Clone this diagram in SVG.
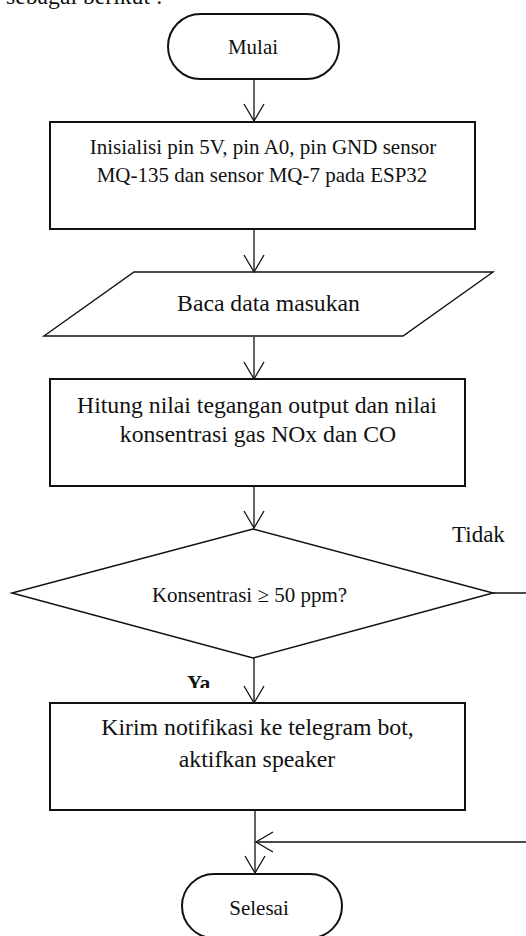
<svg xmlns="http://www.w3.org/2000/svg" width="526" height="936" viewBox="0 0 526 936">
<style>
text{font-family:"Liberation Serif","Times New Roman",serif;fill:#111;}
.c{text-anchor:middle;}
.shape{fill:none;stroke:#111;}
.term{stroke-width:2;}
.box{stroke-width:2;}
.io{stroke-width:1.4;}
.dec{stroke-width:1.5;}
.conn line{stroke:#111;stroke-width:1.3;fill:none;}
</style>
<defs>
<marker id="arr" viewBox="-19 -12 21 24" markerWidth="21" markerHeight="24" refX="0" refY="0" orient="auto" markerUnits="userSpaceOnUse">
<path d="M-17,-10 L0,0 L-17,10" fill="none" stroke="#111" stroke-width="1.3"/>
</marker>
<clipPath id="yaclip"><rect x="0" y="0" width="526" height="688"/></clipPath>
</defs>
<rect width="526" height="936" fill="#fff"/>
<text x="6" y="4" style="font-size:23.7px">sebagai berikut :</text>

<g id="connectors" class="conn">
<line x1="254" y1="79" x2="254" y2="121" marker-end="url(#arr)"/>
<line x1="254" y1="229" x2="254" y2="272" marker-end="url(#arr)"/>
<line x1="254" y1="337" x2="254" y2="379" marker-end="url(#arr)"/>
<line x1="254" y1="486" x2="254" y2="528" marker-end="url(#arr)"/>
<line x1="254" y1="658" x2="254" y2="703" marker-end="url(#arr)"/>
<line x1="255" y1="810" x2="255" y2="873" marker-end="url(#arr)"/>
<line x1="493" y1="593" x2="526" y2="593"/>
<line x1="526" y1="842" x2="256" y2="842" marker-end="url(#arr)"/>
</g>

<g id="mulai">
<rect class="shape term" x="168" y="14" width="171" height="65" rx="32.5"/>
<text class="c" x="253" y="54" style="font-size:21px">Mulai</text>
</g>

<g id="inisialisasi">
<rect class="shape box" x="50" y="122" width="425" height="107"/>
<text class="c" x="263" y="154" style="font-size:21px">Inisialisi pin 5V, pin A0, pin GND sensor</text>
<text class="c" x="262" y="182" style="font-size:21px">MQ-135 dan sensor MQ-7 pada ESP32</text>
</g>

<g id="baca">
<polygon class="shape io" points="134,272 493,272 403,336 44,336"/>
<text class="c" x="268.5" y="311" style="font-size:23.7px">Baca data masukan</text>
</g>

<g id="hitung">
<rect class="shape box" x="50" y="379" width="415" height="107"/>
<text class="c" x="257" y="413" style="font-size:23.7px">Hitung nilai tegangan output dan nilai</text>
<text class="c" x="258" y="442" style="font-size:23.7px">konsentrasi gas NOx dan CO</text>
</g>

<g id="keputusan">
<polygon class="shape dec" points="253,529 493,593 253,658 12,593"/>
<text class="c" x="249.5" y="602" style="font-size:21px">Konsentrasi ≥ 50 ppm?</text>
<text x="452" y="542" style="font-size:23px">Tidak</text>
<text x="187" y="690" clip-path="url(#yaclip)" style="font-size:21px;font-weight:bold">Ya</text>
</g>

<g id="kirim">
<rect class="shape box" x="50" y="703" width="415" height="107"/>
<text class="c" x="257.5" y="735" style="font-size:23.8px">Kirim notifikasi ke telegram bot,</text>
<text class="c" x="257" y="767" style="font-size:23.8px">aktifkan speaker</text>
</g>

<g id="selesai">
<rect class="shape term" x="182" y="874" width="160" height="64" rx="32"/>
<text class="c" x="259" y="915" style="font-size:21px">Selesai</text>
</g>
</svg>
